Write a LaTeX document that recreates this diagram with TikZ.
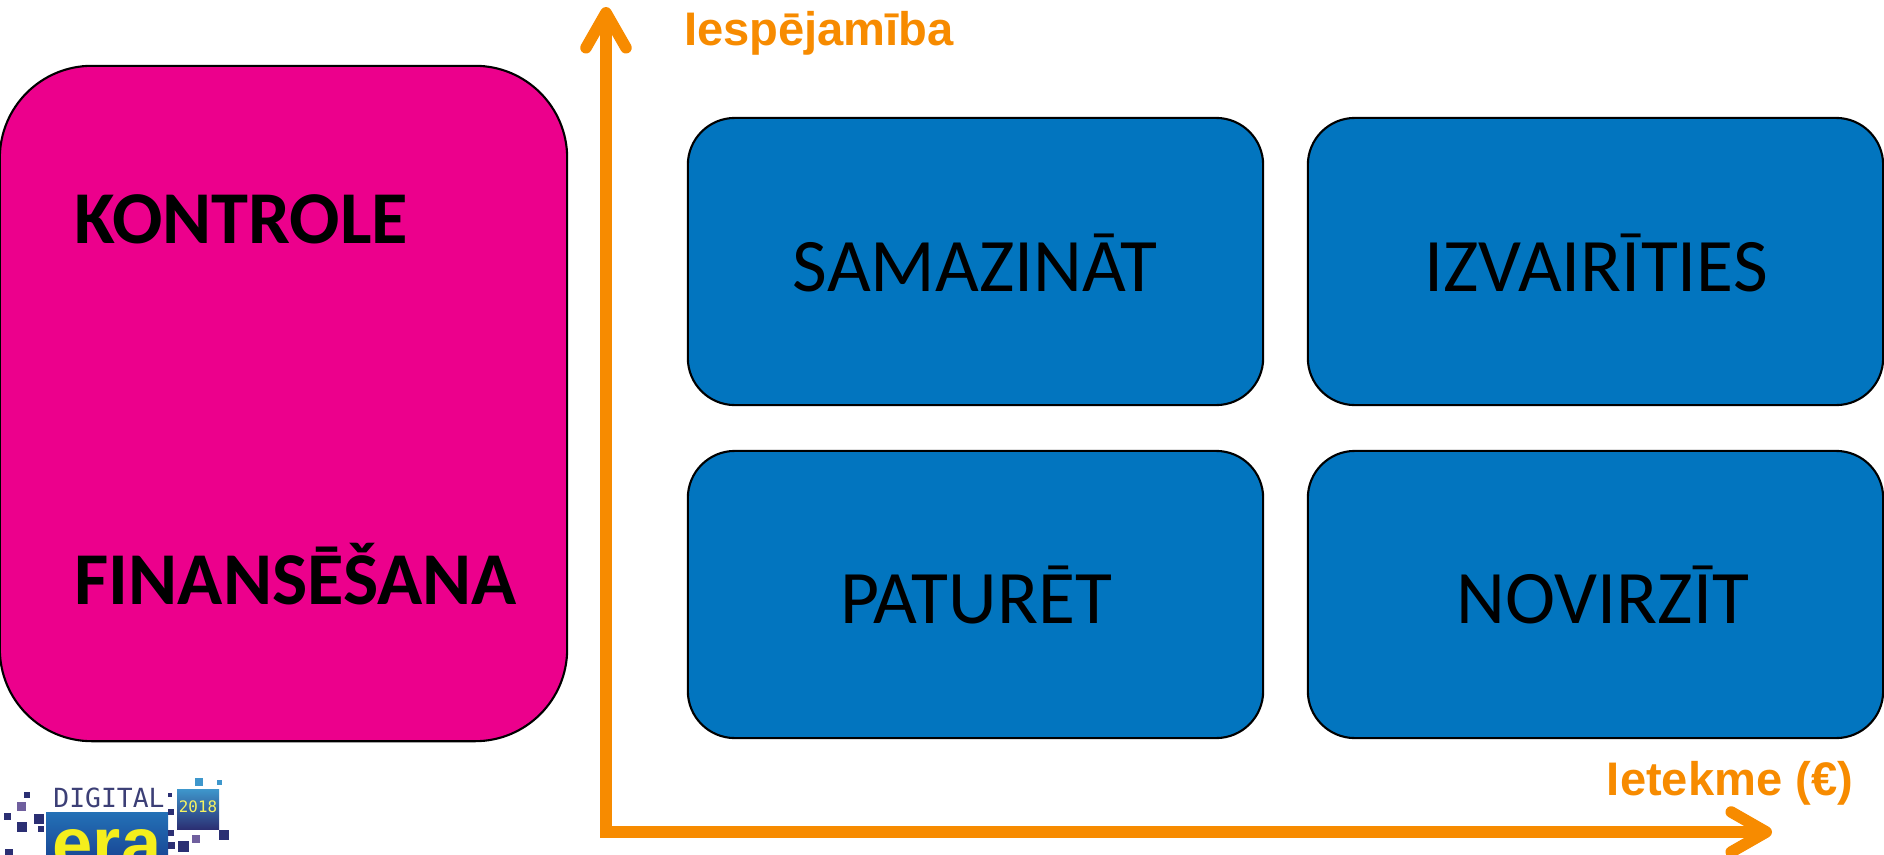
\documentclass[tikz,border=0pt]{standalone}
\usepackage{fontspec}
\setmainfont{Carlito}
\newfontfamily\labelfont{Liberation Sans}
\newfontfamily\logofont{DejaVu Sans Mono}
\usetikzlibrary{arrows.meta}
\definecolor{pinkbox}{HTML}{EC008C}
\definecolor{bluebox}{HTML}{0275BF}
\definecolor{axisorange}{HTML}{F78B00}
\definecolor{logonavy}{HTML}{2B2F73}
\definecolor{logoblue}{HTML}{1257A8}
\definecolor{logosky}{HTML}{3E97CC}
\definecolor{logoyellow}{HTML}{F4EE1C}
\definecolor{logomauve}{HTML}{6F5F9E}
\tikzset{
 riskbox/.style={draw=black, line width=.6pt, fill=bluebox, rounded corners=.47cm, minimum width=5.75cm, minimum height=2.87cm, inner sep=0pt},
 risklabel/.style={inner sep=0pt, font=\fontsize{21.5}{21.5}\selectfont},
 axisline/.style={draw=axisorange, line width=.115cm, -{Straight Barb[round, length=.35cm, width=.4cm]}},
 axislabel/.style={text=axisorange, font=\labelfont\bfseries\fontsize{13.4}{13.4}\selectfont, inner sep=0pt},
 sidelabel/.style={font=\bfseries\fontsize{21.2}{21.2}\selectfont, inner sep=0pt, anchor=west}
}
\begin{document}
\begin{tikzpicture}[x=.01cm, y=-.01cm]
 \useasboundingbox(0,0)rectangle(1884,854);
 \clip(0,0)rectangle(1884,854);
 \node(side)at(283.5,403.5)[draw=black, line width=.6pt, fill=pinkbox, rounded corners=.92cm, minimum width=5.67cm, minimum height=6.75cm]{};
 \node(kontrole)at(74,219)[sidelabel]{KONTROLE};
 \node(finansesana)at(74,574)[sidelabel]{FINANSĒŠANA};
 \node(samazinat)at(975.5,261.5)[riskbox]{};
 \node(izvairities)at(1595.5,261.5)[riskbox]{};
 \node(paturet)at(975.5,594.5)[riskbox]{};
 \node(novirzit)at(1595.5,594.5)[riskbox]{};
 \node(samazinattext)at(975,263)[risklabel]{SAMAZINĀT};
 \node(izvairitiestext)at(1596,263)[risklabel]{IZVAIRĪTIES};
 \node(paturettext)at(976,595)[risklabel]{PATURĒT};
 \node(novirzittext)at(1603,595)[risklabel]{NOVIRZĪT};
 \coordinate(origin)at(606,832);
 \coordinate(top)at(606,7);
 \coordinate(right)at(1772,832);
 \draw[axisline](origin)++(0,5)--(top);
 \draw[axisline](origin)++(-6,0)--(right);
 \node(likelihood)at(819,33)[axislabel]{Iespējamība};
 \node(impact)at(1730,783)[axislabel]{Ietekme (€)};
 % logo
 \shade[top color=logosky!40!logoblue, bottom color=logoblue!70!logonavy](46,812)rectangle(168,854);
 \shade[top color=logosky, bottom color=logonavy](177,789)rectangle(219,829);
 \node(logoyear)at(198,807)[text=logoyellow!70!white, font=\logofont\fontsize{4.5}{4.5}\selectfont, inner sep=0pt]{2018};
 \node(logodigital)at(109,798)[text=logonavy!80!gray, font=\logofont\fontsize{7.5}{7.5}\selectfont, inner sep=0pt]{DIGITAL};
 \node(logoera)at(107,868)[anchor=base, text=logoyellow, font=\labelfont\bfseries\fontsize{20.6}{20.6}\selectfont, inner sep=0pt]{era};
 \foreach \x/\y/\s in {4/813/7,24/792/6,17/822/10,34/814/10,38/826/6,5/849/8,168/793/4,168/809/6,178/841/11,219/830/10,168/830/6,168/842/7}
 {
     \fill[logonavy](\x,\y)rectangle(\x+\s,\y+\s);
 }
 \foreach \x/\y/\s in {17/802/9,192/835/8}
 {
     \fill[logomauve](\x,\y)rectangle(\x+\s,\y+\s);
 }
 \foreach \x/\y/\s in {195/778/8,217/780/5}
 {
     \fill[logosky](\x,\y)rectangle(\x+\s,\y+\s);
 }
\end{tikzpicture}
\end{document}
